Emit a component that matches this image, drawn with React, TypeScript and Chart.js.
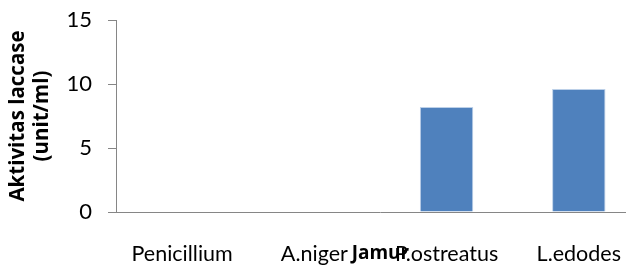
import React, { useEffect, useRef } from "react";
import { Chart, registerables } from "chart.js";

Chart.register(...registerables);

const categories = ["Penicillium", "A.niger", "P.ostreatus", "L.edodes"];
const activity = [0, 0, 8.2, 9.6];
const yTicks = [0, 5, 10, 15];
const yTitle = ["Aktivitas laccase", "(unit/ml)"];
const xTitle = "Jamur";

const TICK_FONT = "Lato, 'Open Sans', sans-serif";
const TITLE_FONT = "'Open Sans', Lato, sans-serif";
const AXIS = "#868686";

const X_TICK_PAD = 30;
const X_LABEL_LH = 24;
const Y_AXIS_WIDTH = 116;

export default function App() {
  const ref = useRef<HTMLCanvasElement | null>(null);
  useEffect(() => {
    if (!ref.current) return;
    const chart = new Chart(ref.current, {
      type: "bar",
      data: {
        labels: categories,
        datasets: [
          {
            data: activity,
            backgroundColor: "#4F81BD",
            borderColor: "#BCD0E8",
            borderWidth: 1,
            barPercentage: 0.404,
            categoryPercentage: 1,
          },
        ],
      },
      options: {
        responsive: false,
        animation: false,
        layout: { padding: { top: 20, left: 0, right: 0, bottom: 0 } },
        plugins: { legend: { display: false }, tooltip: { enabled: false } },
        scales: {
          x: {
            grid: { display: false, drawTicks: false },
            border: { display: true, color: AXIS, width: 1 },
            ticks: {
              color: "#000",
              padding: X_TICK_PAD,
              maxRotation: 0,
              autoSkip: false,
              font: { family: TICK_FONT, size: 21.5, lineHeight: X_LABEL_LH / 21.5 },
            },
            title: {
              display: true,
              text: xTitle,
              color: "#000",
              padding: 0,
              font: { family: TITLE_FONT, size: 19, weight: "bold", lineHeight: X_LABEL_LH / 19 },
            },
            afterFit: (s: any) => {
              s.height = X_TICK_PAD + X_LABEL_LH;
            },
          },
          y: {
            min: 0,
            max: 15,
            afterBuildTicks: (scale: any) => {
              scale.ticks = yTicks.map((v) => ({ value: v }));
            },
            grid: {
              display: true,
              drawOnChartArea: false,
              drawTicks: true,
              tickLength: 8,
              color: AXIS,
            },
            border: { display: true, color: AXIS, width: 1 },
            ticks: {
              color: "#000",
              padding: 16,
              font: { family: TICK_FONT, size: 22, lineHeight: 1.15 },
            },
            title: {
              display: true,
              text: yTitle,
              color: "#000",
              padding: { top: 6, bottom: 16 },
              font: { family: TITLE_FONT, size: 20.5, weight: "bold", lineHeight: 24 / 20.5 },
            },
            afterFit: (s: any) => {
              s.width = Y_AXIS_WIDTH;
              s.paddingTop = 0;
              s.paddingBottom = 0;
            },
          },
        },
      },
    });
    return () => chart.destroy();
  }, []);
  return (
    <div
      style={{
        position: "fixed",
        left: 0,
        top: 0,
        width: 626,
        height: 266,
        overflow: "hidden",
        background: "#fff",
      }}
    >
      <canvas ref={ref} width={651} height={266} style={{ display: "block" }} />
    </div>
  );
}
